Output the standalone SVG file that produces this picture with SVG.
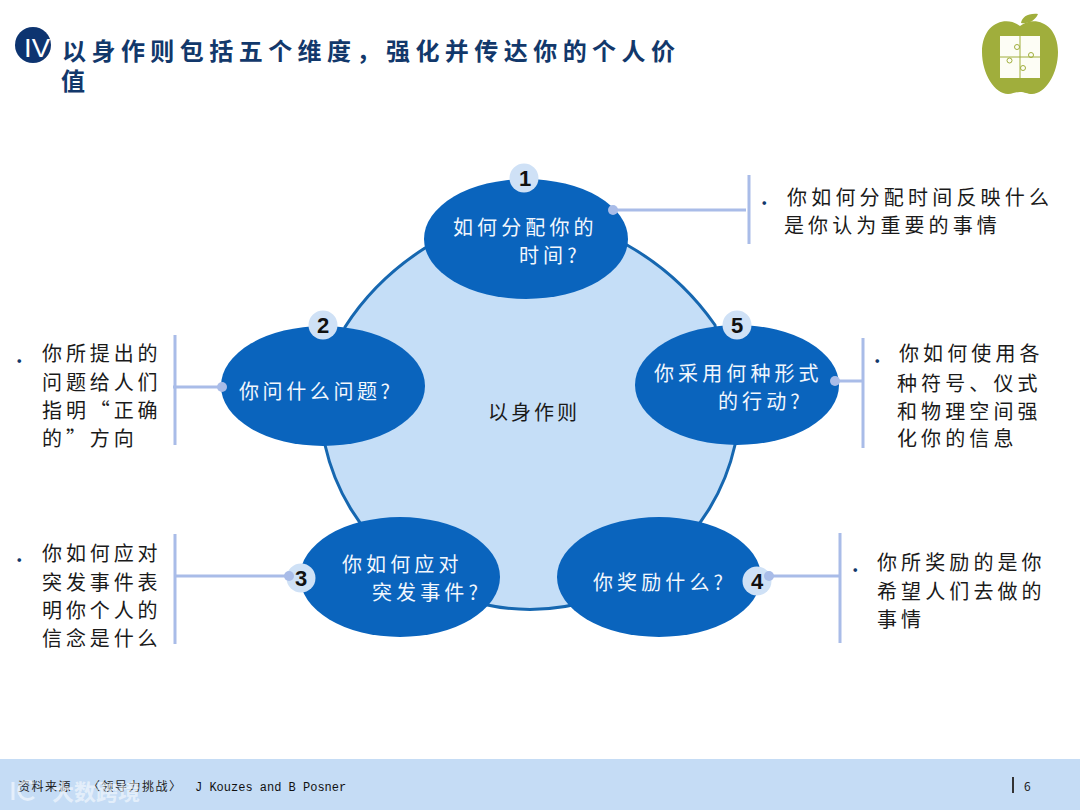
<svg xmlns="http://www.w3.org/2000/svg" width="1080" height="810" viewBox="0 0 1080 810">
<style>
text{font-family:"Noto Sans CJK SC","Liberation Sans",sans-serif}
.t{font-size:24px;letter-spacing:5.450px;font-weight:700;fill:#12386b}
.e{fill:#0a64bd}
.w{font-size:20px;letter-spacing:4.1px;fill:#f2f7fd}
.b{font-size:20px;letter-spacing:4.1px;fill:#1a1a1a}
.c{letter-spacing:3.9px}
.d{font-size:20px;font-weight:700;fill:#12386b}
.nc{fill:#cfe1f6}
.n{font-family:"Liberation Sans",sans-serif;font-size:22px;font-weight:700;fill:#111;text-anchor:middle}
.l{stroke:#a9bce8;stroke-width:3;fill:none}
.p{fill:#a9bce8}
</style>
<rect width="1080" height="810" fill="#fff"/>
<g id="title">
<circle cx="33" cy="45" r="18" fill="#0d3470"/>
<text x="24" y="57" style="font-family:'Liberation Sans',sans-serif" font-size="26" fill="#fff" textLength="26" lengthAdjust="spacingAndGlyphs">IV</text>
<text class="t" x="62" y="60">以身作则包括五个维度，强化并传达你的个人价</text>
<text class="t" x="61" y="90">值</text>
</g>
<g id="logo">
<path d="M1020 26C1034 15 1058 23 1058 52C1058 74 1045 94 1032 94C1027 94 1025 92 1020 92C1015 92 1013 94 1008 94C995 94 982 74 982 52C982 23 1006 15 1020 26Z" fill="#a0ae3c"/>
<path d="M1021 23C1022 17 1028 13 1038 14C1035 21 1028 24 1021 23Z" fill="#a0ae3c"/>
<rect x="1000" y="36" width="40" height="42" fill="#fdfdf5"/>
<path d="M1020 36V78M1000 57H1040" stroke="#a0ae3c" stroke-width="1" fill="none"/>
<g fill="none" stroke="#a0ae3c" stroke-width="1"><circle cx="1017" cy="47" r="2.500"/><circle cx="1031" cy="55" r="2.500"/><circle cx="1009.500" cy="60.500" r="2.500"/><circle cx="1023" cy="68" r="2.500"/></g>
</g>
<g id="center">
<path d="M425 248Q375 280 345 327L325 445A210 210 0 0 0 735 445L715 325Q680 275 627 245Z" fill="#c5def7" stroke="#1667b0" stroke-width="3"/>
<text class="b" x="488" y="420" style="letter-spacing:3px">以身作则</text>
</g>
<g id="connectors">
<path class="l" d="M613 210H746M749 175V244"/>
<path class="l" d="M222 387H173M175 335V445"/>
<path class="l" d="M289 576H175M175 534V644"/>
<path class="l" d="M769 576H839M840 533V643"/>
<path class="l" d="M835 381H862M863 338V448"/>
</g>
<g id="node1">
<ellipse class="e" cx="526" cy="239" rx="102" ry="60"/>
<circle class="nc" cx="524" cy="178" r="14.500"/>
<text class="n" x="525" y="186">1</text>
<text class="w" x="453" y="235">如何分配你的</text>
<text class="w" x="519" y="263">时间?</text>
<circle class="p" cx="613" cy="210" r="5"/>
</g>
<g id="node2">
<ellipse class="e" cx="323" cy="386" rx="102" ry="60"/>
<circle class="nc" cx="323" cy="325" r="14.500"/>
<text class="n" x="323" y="333">2</text>
<text class="w" x="239" y="399" style="letter-spacing:3.600px">你问什么问题?</text>
<circle class="p" cx="222" cy="387" r="5"/>
</g>
<g id="node3">
<ellipse class="e" cx="400" cy="577" rx="100" ry="60"/>
<circle class="nc" cx="301" cy="578" r="14.500"/>
<text class="n" x="301" y="586">3</text>
<text class="w" x="342" y="572">你如何应对</text>
<text class="w" x="372" y="600">突发事件?</text>
<circle class="p" cx="289" cy="576" r="5"/>
</g>
<g id="node4">
<ellipse class="e" cx="659" cy="577" rx="102" ry="60"/>
<circle class="nc" cx="757" cy="581" r="14.500"/>
<text class="n" x="757" y="589">4</text>
<text class="w" x="593" y="590">你奖励什么?</text>
<circle class="p" cx="769" cy="576" r="5"/>
</g>
<g id="node5">
<ellipse class="e" cx="737" cy="385" rx="102" ry="60"/>
<circle class="nc" cx="737" cy="325" r="14.500"/>
<text class="n" x="737" y="333">5</text>
<text class="w" x="654" y="381">你采用何种形式</text>
<text class="w" x="718" y="409">的行动?</text>
<circle class="p" cx="835" cy="381" r="5"/>
</g>
<g id="note1">
<text class="d" x="761" y="205">.</text>
<text class="b" x="787" y="205" style="letter-spacing:4.200px">你如何分配时间反映什么</text>
<text class="b" x="784" y="233">是你认为重要的事情</text>
</g>
<g id="note2">
<text class="d" x="16" y="363">.</text>
<text class="b c" x="42" y="361">你所提出的</text>
<text class="b c" x="42" y="390">问题给人们</text>
<text class="b c" x="42" y="418">指明“正确</text>
<text class="b c" x="42" y="446">的”方向</text>
</g>
<g id="note3">
<text class="d" x="16" y="562">.</text>
<text class="b c" x="42" y="561">你如何应对</text>
<text class="b c" x="42" y="590">突发事件表</text>
<text class="b c" x="42" y="618">明你个人的</text>
<text class="b c" x="42" y="646">信念是什么</text>
</g>
<g id="note4">
<text class="d" x="852" y="572">.</text>
<text class="b" x="877" y="570">你所奖励的是你</text>
<text class="b" x="877" y="599">希望人们去做的</text>
<text class="b" x="877" y="627">事情</text>
</g>
<g id="note5">
<text class="d" x="874" y="363">.</text>
<text class="b" x="899" y="361">你如何使用各</text>
<text class="b" x="897" y="391">种符号、仪式</text>
<text class="b" x="897" y="419">和物理空间强</text>
<text class="b" x="897" y="446">化你的信息</text>
</g>
<g id="footer">
<rect x="0" y="759" width="1080" height="51" fill="#c5dcf5"/>
<text x="18" y="791" font-size="12" fill="#222" letter-spacing="1.500">资料来源<tspan x="88">〈领导力挑战〉</tspan></text>
<text x="195" y="791" style="font-family:'Liberation Mono',monospace" font-size="12" fill="#111">J Kouzes and B Posner</text>
<rect x="1012" y="777" width="2" height="16" fill="#333"/>
<text x="1024" y="791" font-size="12" fill="#222">6</text>
<path d="M13 782V800M34 784A9 9 0 1 0 34 797" fill="none" stroke="#fff" stroke-opacity=".55" stroke-width="3"/>
<text x="52" y="800" font-size="22" font-weight="700" fill="#fff" fill-opacity=".55">大数跨境</text>
</g>
</svg>
